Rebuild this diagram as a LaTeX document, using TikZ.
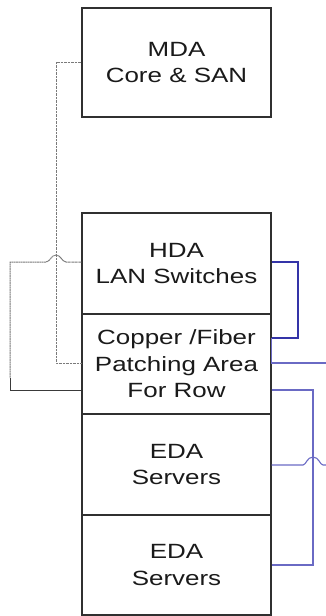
\documentclass[tikz,border=0pt]{standalone}
\usepackage{fontspec}
\setmainfont[FakeStretch=1.26]{Liberation Sans}
\definecolor{boxline}{HTML}{303030}
\definecolor{txt}{HTML}{1A1A1A}
\definecolor{grayc}{HTML}{7A7A7A}
\definecolor{darkc}{HTML}{3A3A3A}
\definecolor{blueAc}{HTML}{3434A8}
\definecolor{blueBc}{HTML}{6A6AC4}
\begin{document}
\begin{tikzpicture}[x=1pt,y=-1pt,
  blk/.style={draw=boxline,line width=1.2pt,fill=white,minimum width=189pt,inner sep=0pt,
    align=center,text=txt,font=\fontsize{20.6pt}{26.5pt}\selectfont},
  grayln/.style={draw=grayc,line width=1pt,dash pattern=on 1pt off 0.4pt},
  darkln/.style={draw=darkc,line width=1pt},
  blueA/.style={draw=blueAc,line width=1.1pt},
  blueB/.style={draw=blueBc,line width=1.1pt}]
\useasboundingbox (0,0) rectangle (326,616);
\node[blk,minimum height=109pt] (mda) at (176.5,62.5) {MDA\\Core \& SAN};
\node[blk,minimum height=101pt] (hda) at (176.5,263.5) {HDA\\LAN Switches};
\node[blk,minimum height=100pt] (pat) at (176.5,364) {Copper /Fiber\\Patching Area\\For Row};
\node[blk,minimum height=101pt] (eda1) at (176.5,464.5) {EDA\\Servers};
\node[blk,minimum height=100pt] (eda2) at (176.5,565) {EDA\\Servers};
% gray links on the left
\coordinate (m1) at (56,62);
\draw[grayln] (mda.west |- m1) -- (m1) -- (56,363) -- (pat.west |- 0,363);
\coordinate (h1) at (10,262);
\draw[grayln] (hda.west |- h1) -- (66,262) .. controls (62,262) and (61,255) .. (56,255)
  .. controls (51,255) and (50,262) .. (46,262) -- (h1) -- (10,378);
\coordinate (h2) at (10,390);
\draw[darkln] (10,378) -- (h2) -- (pat.west |- h2);
% blue links on the right
\coordinate (r1) at (298,262);
\draw[blueA] (hda.east |- r1) -- (r1) -- (298,338) -- (pat.east |- 0,338);
\coordinate (r2) at (326,363);
\draw[blueB] (pat.east |- 0,338) -- (pat.east |- r2) -- (r2);
\coordinate (r3) at (313,390);
\draw[blueB] (pat.east |- r3) -- (r3) -- (313,565) -- (eda2.east |- 0,565);
\coordinate (r4) at (326,465);
\draw[blueB] (eda1.east |- r4) -- (303,465) .. controls (306,465) and (307,457) .. (313,457)
  .. controls (319,457) and (320,465) .. (323,465) -- (r4);
\end{tikzpicture}
\end{document}
